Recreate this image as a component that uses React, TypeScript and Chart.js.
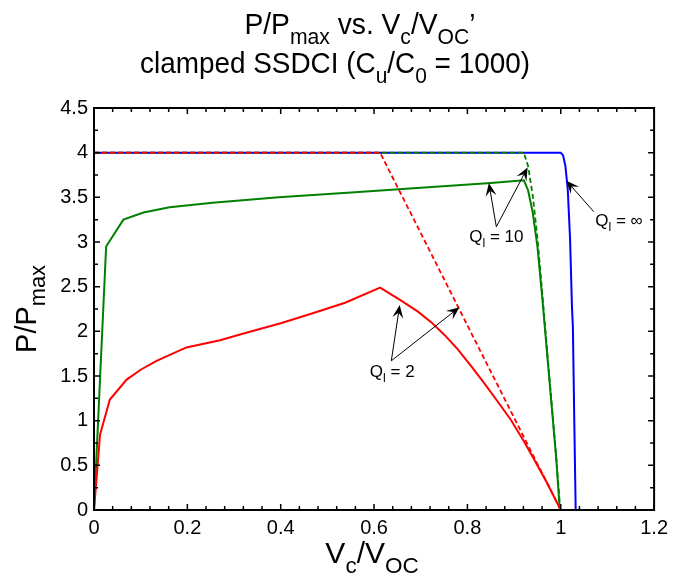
import React, { useEffect, useRef } from 'react';
import { Chart, registerables } from 'chart.js';
Chart.register(...registerables);

const FONT = '"Liberation Sans", Arial, Helvetica, sans-serif';

// tick labels
const xTickLabels = ['0', '0.2', '0.4', '0.6', '0.8', '1', '1.2'];
const yTickLabels = ['0', '0.5', '1', '1.5', '2', '2.5', '3', '3.5', '4', '4.5'];

// Q_l = infinity (blue)
const qInfX = [0, 1.0, 1.005, 1.01, 1.015, 1.02, 1.024, 1.026, 1.029, 1.032];
const qInfY = [4, 4, 3.97, 3.85, 3.59, 3.03, 2.28, 2.05, 1.0, 0];

// Q_l = 10 dashed (green)
const q10dX = [0, 0.921, 0.93, 0.94, 0.95, 0.96, 0.97, 0.98, 0.99, 0.999];
const q10dY = [4, 4, 3.85, 3.52, 3.05, 2.45, 1.83, 1.22, 0.61, 0];

// Q_l = 10 solid (green)
const q10X = [0, 0.026, 0.063, 0.106, 0.162, 0.254, 0.396, 0.567, 0.708, 0.85, 0.921, 0.93, 0.94, 0.95, 0.96, 0.97, 0.98, 0.99, 0.998];
const q10Y = [0, 2.95, 3.25, 3.33, 3.39, 3.44, 3.5, 3.56, 3.61, 3.66, 3.69, 3.58, 3.33, 2.95, 2.4, 1.8, 1.2, 0.6, 0];

// Q_l = 2 dashed (red)
const q2dX = [0, 0.613, 1.0];
const q2dY = [4, 4, 0];

// Q_l = 2 solid (red)
const q2X = [0, 0.013, 0.034, 0.07, 0.1, 0.134, 0.198, 0.27, 0.33, 0.4, 0.467, 0.538, 0.613, 0.659, 0.694, 0.723, 0.751, 0.779, 0.808, 0.836, 0.864, 0.893, 0.921, 0.943, 0.971, 1.0];
const q2Y = [0, 0.845, 1.237, 1.46, 1.57, 1.67, 1.82, 1.9, 1.99, 2.09, 2.2, 2.32, 2.49, 2.34, 2.22, 2.1, 1.96, 1.8, 1.61, 1.42, 1.22, 1.01, 0.77, 0.565, 0.3, 0];

// annotations (data coordinates): label, text anchor, arrow tail, arrow tips
const annLabels = [
  { main: 'Q', sub: 'l', rest: ' = \u221e', at: [1.074, 3.18], tail: [1.0706, 3.34], tips: [[1.012, 3.687]] },
  { main: 'Q', sub: 'l', rest: ' = 10', at: [0.804, 3.0], tail: [0.862, 3.17], tips: [[0.846, 3.66], [0.929, 3.835]] },
  { main: 'Q', sub: 'l', rest: ' = 2', at: [0.591, 1.49], tail: [0.637, 1.67], tips: [[0.655, 2.295], [0.783, 2.27]] },
];

type Seg = { t: string; sub?: boolean };

function drawRich(ctx: CanvasRenderingContext2D, segs: Seg[], x: number, y: number, size: number, subScale: number, align: 'left' | 'center', sx = 1) {
  const fontOf = (s: Seg) => `${s.sub ? size * subScale : size}px ${FONT}`;
  let w = 0;
  for (const s of segs) { ctx.font = fontOf(s); w += ctx.measureText(s.t).width; }
  ctx.save();
  ctx.translate(x, y);
  ctx.scale(sx, 1);
  let cx = align === 'center' ? -w / 2 : 0;
  ctx.textAlign = 'left';
  ctx.textBaseline = 'alphabetic';
  for (const s of segs) {
    ctx.font = fontOf(s);
    ctx.fillText(s.t, cx, s.sub ? size * 0.32 : 0);
    cx += ctx.measureText(s.t).width;
  }
  ctx.restore();
}

function zip(xs: number[], ys: number[]) {
  return xs.map((x, i) => ({ x, y: ys[i] }));
}

const decorPlugin = {
  id: 'decor',
  afterDatasetsDraw(chart: any) {
    const { ctx, chartArea: a, scales } = chart;
    const xs = scales.x, ys = scales.y;
    ctx.save();
    ctx.strokeStyle = '#000';
    ctx.lineCap = 'butt';
    // inward ticks
    ctx.lineWidth = 1.5;
    ctx.beginPath();
    for (let i = 0; i <= 30; i++) {
      const px = xs.getPixelForValue(i * 0.04);
      const len = i % 5 === 0 ? 6 : 4;
      ctx.moveTo(px, a.bottom); ctx.lineTo(px, a.bottom - len);
      ctx.moveTo(px, a.top); ctx.lineTo(px, a.top + len);
    }
    for (let i = 0; i <= 18; i++) {
      const py = ys.getPixelForValue(i * 0.25);
      const len = i % 2 === 0 ? 6 : 4;
      ctx.moveTo(a.left, py); ctx.lineTo(a.left + len, py);
      ctx.moveTo(a.right, py); ctx.lineTo(a.right - len, py);
    }
    ctx.stroke();
    // frame
    ctx.lineWidth = 2;
    ctx.strokeRect(a.left, a.top, a.right - a.left, a.bottom - a.top);

    // annotations
    ctx.fillStyle = '#000';
    ctx.lineWidth = 1;
    for (const an of annLabels) {
      const tx = xs.getPixelForValue(an.tail[0]);
      const ty = ys.getPixelForValue(an.tail[1]);
      for (const tip of an.tips) {
        const hx = xs.getPixelForValue(tip[0]);
        const hy = ys.getPixelForValue(tip[1]);
        const dx = hx - tx, dy = hy - ty;
        const d = Math.hypot(dx, dy);
        const ux = dx / d, uy = dy / d;
        const nx = -uy, ny = ux;
        const L = 13, W = 5.5;
        ctx.beginPath();
        ctx.moveTo(tx, ty);
        ctx.lineTo(hx - ux * L * 0.6, hy - uy * L * 0.6);
        ctx.stroke();
        ctx.beginPath();
        ctx.moveTo(hx, hy);
        ctx.lineTo(hx - ux * L + nx * W, hy - uy * L + ny * W);
        ctx.lineTo(hx - ux * L * 0.6, hy - uy * L * 0.6);
        ctx.lineTo(hx - ux * L - nx * W, hy - uy * L - ny * W);
        ctx.closePath();
        ctx.fill();
      }
      const lx = xs.getPixelForValue(an.at[0]);
      const ly = ys.getPixelForValue(an.at[1]);
      drawRich(ctx, [{ t: an.main }, { t: an.sub, sub: true }, { t: an.rest }], lx, ly, 17, 0.72, 'left');
    }
    ctx.restore();
  },
  afterDraw(chart: any) {
    const { ctx, chartArea: a } = chart;
    ctx.save();
    ctx.fillStyle = '#000';
    const cxm = (a.left + a.right) / 2;
    drawRich(ctx, [{ t: 'P/P' }, { t: 'max', sub: true }, { t: ' vs. V' }, { t: 'c', sub: true }, { t: '/V' }, { t: 'OC', sub: true }, { t: '\u2019' }], 360, 34, 30, 0.75, 'center', 0.94);
    drawRich(ctx, [{ t: 'clamped SSDCI (C' }, { t: 'u', sub: true }, { t: '/C' }, { t: '0', sub: true }, { t: ' = 1000)' }], 335, 73, 30, 0.75, 'center', 0.93);
    drawRich(ctx, [{ t: 'V' }, { t: 'c', sub: true }, { t: '/V' }, { t: 'OC', sub: true }], cxm - 2, 563, 30, 0.75, 'center');
    ctx.translate(36, (a.top + a.bottom) / 2);
    ctx.rotate(-Math.PI / 2);
    drawRich(ctx, [{ t: 'P/P' }, { t: 'max', sub: true }], 0, 0, 29, 0.75, 'center');
    ctx.restore();
  },
};

export default function App() {
  const ref = useRef<HTMLCanvasElement>(null);
  useEffect(() => {
    if (!ref.current) return;
    const chart = new Chart(ref.current, {
      type: 'line',
      data: {
        datasets: [
          { data: zip(q2dX, q2dY), borderColor: '#ff0000', borderWidth: 1.8, borderDash: [5, 3] },
          { data: zip(q2X, q2Y), borderColor: '#ff0000', borderWidth: 2 },
          { data: zip(q10dX, q10dY), borderColor: '#008000', borderWidth: 1.8, borderDash: [5, 3] },
          { data: zip(q10X, q10Y), borderColor: '#008000', borderWidth: 2 },
          { data: zip(qInfX, qInfY), borderColor: '#0000ff', borderWidth: 2 },
        ],
      },
      options: {
        animation: false,
        responsive: false,
        parsing: false as any,
        layout: { padding: { left: 0, right: 16, top: 108, bottom: 0 } },
        elements: { point: { radius: 0 }, line: { tension: 0, fill: false } },
        plugins: { legend: { display: false }, tooltip: { enabled: false }, title: { display: false } },
        scales: {
          x: {
            type: 'linear',
            min: 0,
            max: 1.2,
            afterFit: (s: any) => { s.height = 73; },
            grid: { display: false, drawTicks: false },
            border: { display: false },
            ticks: {
              stepSize: 0.2,
              autoSkip: false,
              maxRotation: 0,
              padding: 6,
              color: '#000',
              font: { family: FONT, size: 20 },
              callback: (v: any) => xTickLabels[Math.round(Number(v) / 0.2)] ?? '',
            },
          },
          y: {
            type: 'linear',
            min: 0,
            max: 4.5,
            afterFit: (s: any) => { s.width = 94; },
            grid: { display: false, drawTicks: false },
            border: { display: false },
            ticks: {
              stepSize: 0.5,
              autoSkip: false,
              padding: 6,
              color: '#000',
              font: { family: FONT, size: 20 },
              callback: (v: any) => yTickLabels[Math.round(Number(v) / 0.5)] ?? '',
            },
          },
        },
      },
      plugins: [decorPlugin],
    });
    return () => chart.destroy();
  }, []);
  return (
    <div style={{ position: 'absolute', left: 0, top: 0, width: 674, height: 583, background: '#fff' }}>
      <canvas ref={ref} width={674} height={583} style={{ display: 'block' }} />
    </div>
  );
}
